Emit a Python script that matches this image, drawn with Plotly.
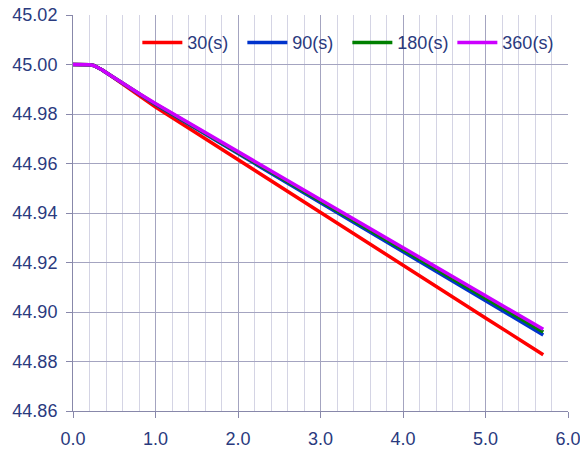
import plotly.graph_objects as go

x_vals = [0.0, 0.1, 0.2, 0.25, 0.3, 0.35, 0.4, 0.5, 0.6, 0.8, 1.0, 1.5, 2.0, 2.5, 3.0, 3.5, 4.0, 4.5, 5.0, 5.5, 5.7]

y_30 = [45.0, 45.0, 44.9999, 44.9996, 44.9989, 44.9979, 44.9968, 44.9945, 44.9922, 44.9876, 44.9828,
        44.9722, 44.9615, 44.9509, 44.9402, 44.9296, 44.9189, 44.9083, 44.8976, 44.8870, 44.8827]
y_90 = [45.0, 45.0, 44.9999, 44.9996, 44.9989, 44.9979, 44.9968, 44.9946, 44.9924, 44.9881, 44.9838,
        44.9739, 44.9640, 44.9541, 44.9442, 44.9343, 44.9244, 44.9145, 44.9046, 44.8947, 44.8907]
y_180 = [45.0, 45.0, 44.9999, 44.9996, 44.9989, 44.9979, 44.9968, 44.9946, 44.9924, 44.9882, 44.9840,
         44.9742, 44.9644, 44.9546, 44.9448, 44.9350, 44.9252, 44.9154, 44.9056, 44.8958, 44.8919]
y_360 = [45.0, 45.0, 44.9999, 44.9996, 44.9989, 44.9979, 44.9968, 44.9946, 44.9924, 44.9883, 44.9842,
         44.9745, 44.9648, 44.9551, 44.9454, 44.9357, 44.9260, 44.9163, 44.9066, 44.8969, 44.8930]

series_names = ["30(s)", "90(s)", "180(s)", "360(s)"]
series_vals = [y_30, y_90, y_180, y_360]
series_colors = ["#ff0000", "#0033cc", "#008000", "#cc00ff"]

x_ticks = [0, 1, 2, 3, 4, 5, 6]
y_ticks = [44.86, 44.88, 44.90, 44.92, 44.94, 44.96, 44.98, 45.00, 45.02]

fig = go.Figure()
for name, ys, col in zip(series_names, series_vals, series_colors):
    fig.add_trace(go.Scatter(x=x_vals, y=ys, mode="lines", name=name,
                             line=dict(color=col, width=3.5)))

font_col = "#2a3a7e"
fig.update_layout(
    width=580, height=456,
    margin=dict(l=73, r=12, t=15, b=45, autoexpand=False),
    paper_bgcolor="white", plot_bgcolor="white",
    font=dict(family="Liberation Sans, Arial, sans-serif", size=18, color=font_col),
    showlegend=True,
    legend=dict(orientation="h", x=0.13, xanchor="left", y=0.93, yanchor="middle",
                bgcolor="rgba(0,0,0,0)", font=dict(size=18, color=font_col),
                itemwidth=40, tracegroupgap=0, entrywidth=50, entrywidthmode="pixels"),
    xaxis=dict(range=[0, 6], tickvals=x_ticks, tickformat=".1f", automargin=False,
               ticklabeloverflow="allow", ticklabelstandoff=5,
               showgrid=True, gridcolor="#a4a4c0", gridwidth=1,
               minor=dict(dtick=0.2, showgrid=True, gridcolor="#d4d4e4", gridwidth=1),
               ticks="outside", ticklen=6, tickcolor="#8888aa",
               showline=True, linecolor="#8888aa", mirror=False, zeroline=False),
    yaxis=dict(range=[44.86, 45.02], tickvals=y_ticks, tickformat=".2f", automargin=False,
               ticklabeloverflow="allow", ticklabelstandoff=5,
               showgrid=True, gridcolor="#a4a4c0", gridwidth=1,
               ticks="outside", ticklen=6, tickcolor="#8888aa",
               showline=True, linecolor="#8888aa", zeroline=False),
)

fig.write_html("out.html", config={"displayModeBar": False},
               post_script="document.body.style.margin='0';")
